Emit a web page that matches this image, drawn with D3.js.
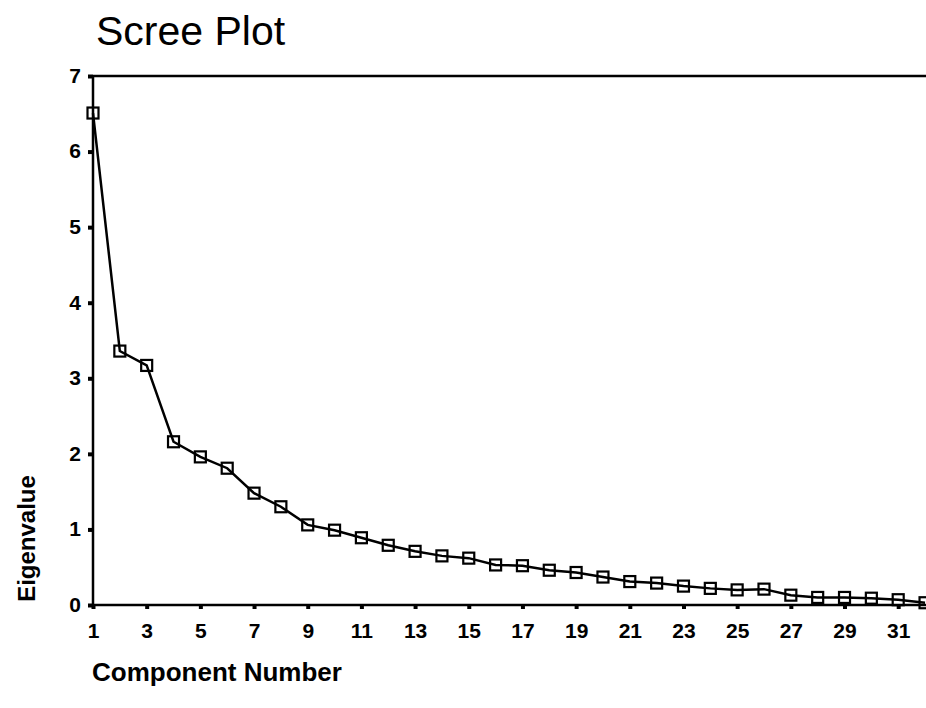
<!DOCTYPE html>
<html>
<head>
<meta charset="utf-8">
<script src="https://cdn.jsdelivr.net/npm/d3@7"></script>
<style>
  html, body { margin: 0; padding: 0; background: #fff; }
  svg { display: block; font-family: "Liberation Sans", Arial, sans-serif; }
</style>
</head>
<body>
<div id="chart"></div>
<script>
// 数据：各主成分的特征值
const components = d3.range(1, 33);
const eigenvalues = [
  6.51, 3.36, 3.17, 2.16, 1.96, 1.81, 1.48, 1.30, 1.06, 0.99,
  0.89, 0.79, 0.71, 0.65, 0.62, 0.53, 0.52, 0.46, 0.43, 0.37,
  0.31, 0.29, 0.25, 0.22, 0.20, 0.21, 0.13, 0.10, 0.10, 0.09,
  0.07, 0.03
];
const xTicks = d3.range(1, 32, 2);
const yTicks = [0, 1, 2, 3, 4, 5, 6, 7];

const width = 926, height = 708;
const margin = { top: 76, right: 0, bottom: 103, left: 93 };

const svg = d3.select('#chart').append('svg')
  .attr('width', width)
  .attr('height', height);

const x = d3.scaleLinear()
  .domain([1, 32])
  .range([margin.left, margin.left + 31 * 26.84]);

const y = d3.scaleLinear()
  .domain([0, 7])
  .range([height - margin.bottom, margin.top]);

// 标题
svg.append('text')
  .attr('x', 96)
  .attr('y', 45)
  .attr('font-size', '41px')
  .attr('fill', '#000')
  .text('Scree Plot');

// 顶部边框线
svg.append('line')
  .attr('x1', margin.left).attr('x2', width)
  .attr('y1', y(7)).attr('y2', y(7))
  .attr('stroke', '#000').attr('stroke-width', 2.5);

// 坐标轴
const xAxis = d3.axisBottom(x)
  .tickValues(xTicks)
  .tickSize(4)
  .tickPadding(4)
  .tickFormat(d3.format('d'));

const gx = svg.append('g')
  .attr('transform', `translate(0,${y(0)})`)
  .call(xAxis);
gx.select('.domain').remove();
gx.append('line')
  .attr('x1', margin.left).attr('x2', width)
  .attr('stroke', '#000').attr('stroke-width', 2.5);

const yAxis = d3.axisLeft(y)
  .tickValues(yTicks)
  .tickSize(5)
  .tickPadding(7)
  .tickFormat(d3.format('d'));

const gy = svg.append('g')
  .attr('transform', `translate(${margin.left},0)`)
  .call(yAxis);
gy.select('.domain').remove();
gy.append('line')
  .attr('y1', y(0) + 2).attr('y2', y(7))
  .attr('stroke', '#000').attr('stroke-width', 2.5);

[gx, gy].forEach(g => {
  g.selectAll('.tick line').attr('stroke', '#000').attr('stroke-width', 4);
  g.selectAll('.tick text')
    .attr('fill', '#000')
    .attr('font-size', '21px')
    .attr('font-weight', 'bold')
    .attr('font-family', '"Liberation Sans", Arial, sans-serif');
});
gx.selectAll('.tick text').attr('dy', '1.2em');
gy.selectAll('.tick text').attr('dy', '0.3em');

// 轴标题
svg.append('text')
  .attr('transform', `translate(35,${(y(0) + 472) / 2}) rotate(-90)`)
  .attr('text-anchor', 'middle')
  .attr('font-size', '24px')
  .attr('font-weight', 'bold')
  .attr('fill', '#000')
  .text('Eigenvalue');

svg.append('text')
  .attr('x', 92)
  .attr('y', 681)
  .attr('font-size', '26px')
  .attr('font-weight', 'bold')
  .attr('fill', '#000')
  .text('Component Number');

// 折线
const data = components.map((c, i) => ({ c, v: eigenvalues[i] }));

svg.append('path')
  .datum(data)
  .attr('fill', 'none')
  .attr('stroke', '#000')
  .attr('stroke-width', 2.5)
  .attr('d', d3.line().x(d => x(d.c)).y(d => y(d.v)));

// 方形标记
const s = 11;
svg.selectAll('.marker')
  .data(data)
  .enter()
  .append('rect')
  .attr('class', 'marker')
  .attr('x', d => x(d.c) - s / 2)
  .attr('y', d => y(d.v) - s / 2)
  .attr('width', s)
  .attr('height', s)
  .attr('fill', 'none')
  .attr('stroke', '#000')
  .attr('stroke-width', 2.2);
</script>
</body>
</html>
